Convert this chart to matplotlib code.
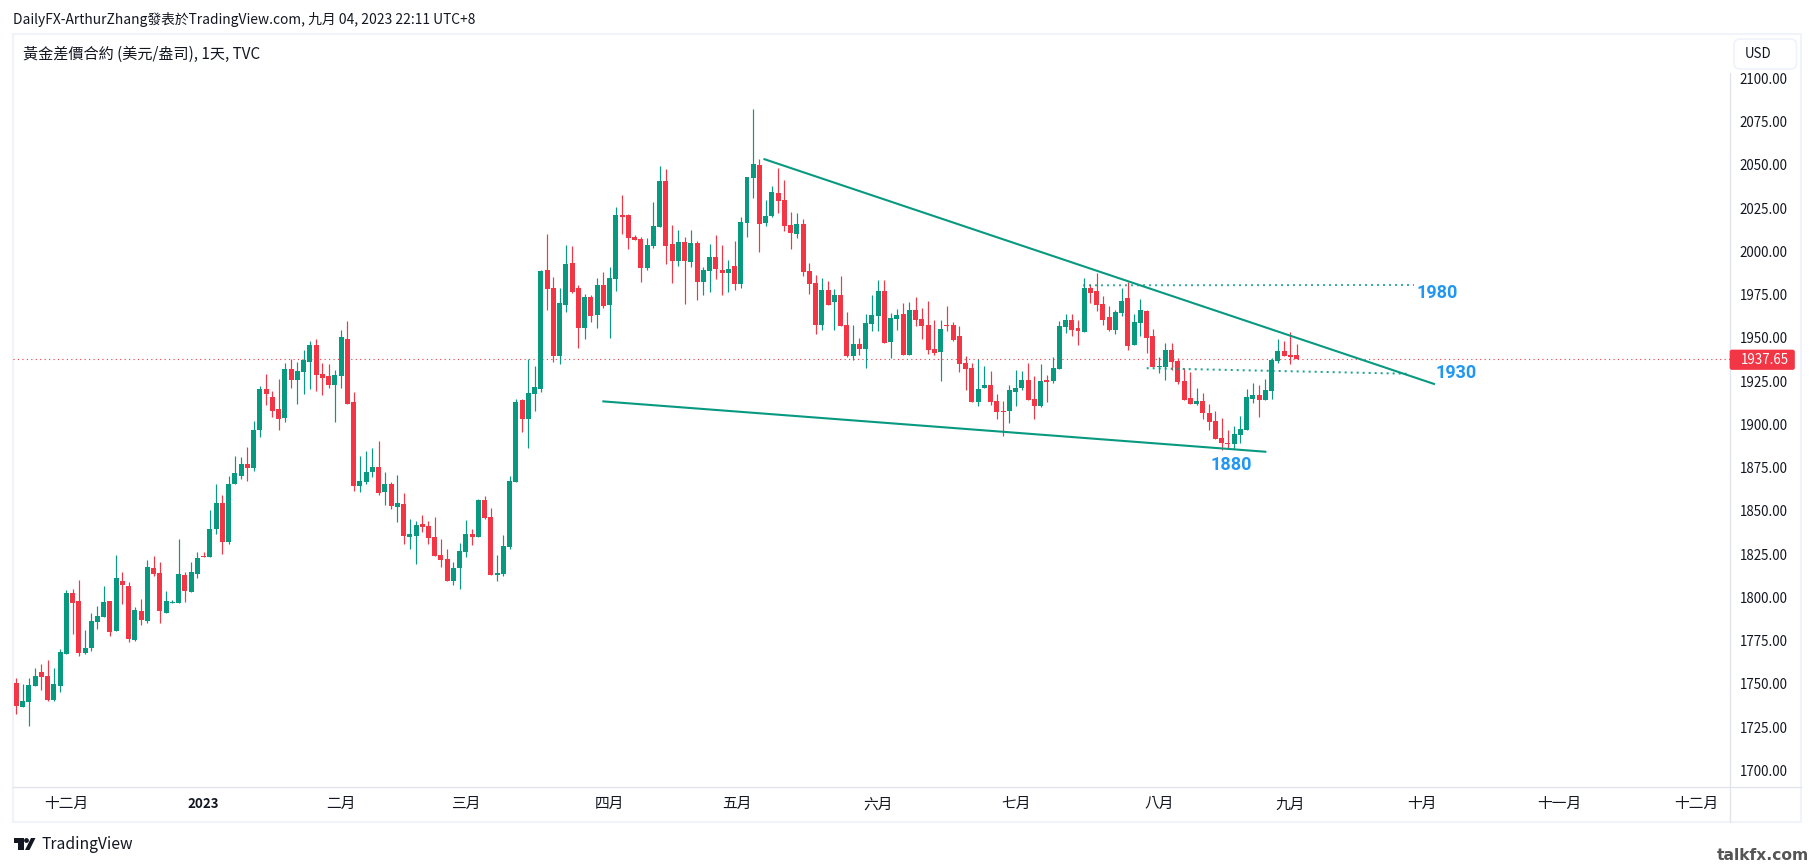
# 黃金日線圖 - TradingView 截圖重畫
import matplotlib
matplotlib.use('Agg')
import numpy as np
import matplotlib.pyplot as plt
from matplotlib.patches import Rectangle, FancyBboxPatch, Polygon, Circle

plt.rcParams['font.family'] = ['Noto Sans CJK TC', 'DejaVu Sans']

# 每根K線的價格
highs = [1753.4,1749.9,1753.4,1759.2,1761.5,1763.8,1759.2,1770.1,1804.3,1804.8,1810,1781.1,1790.9,1795,1806.6,1797.9,1824.5,1814.7,1808.9,1794.4,
 1799,1821.6,1823.9,1820.4,1803.7,1798.5,1833.7,1814.7,1820.4,1826.2,1826.2,1850.5,1865.5,1859.2,1870.2,1881.7,1881.1,1886.9,1902,1922.2,
 1929.1,1919.3,1926.2,1935.5,1937.6,1936.1,1943,1948.2,1949.4,1935.5,1934.9,1931.5,1954.6,1959.8,1918.7,1881.7,1884.6,1886.4,1890.4,1872.5,
 1866.7,1870.7,1860.3,1845.3,1844.2,1847.6,1844.2,1846.5,1833.8,1828,1820.5,1831.4,1844.7,1839.5,1856.9,1858.6,1851.7,1824.5,1836.1,1870.2,
 1914.7,1914.7,1937.6,1933.8,1989.2,2010,1985.2,1978.8,2003.7,2003.1,1980.5,1975.3,1974.8,1984.6,1988.1,1991,2025.6,2032.6,2021.6,2009.5,
 2008.3,2007.7,2028.5,2049.4,2047.6,2015.2,2012.3,2008.3,2012.3,2006,1991,2004.3,2009.5,2003.7,1995,2006,2019.9,2043,2082.3,2053.4,
 2029.7,2037.8,2048.2,2041.3,2022.8,2022.2,2018.8,1993.3,1986.4,1984.7,1982.9,1978.3,1985.8,1965,1957.5,1950,1963.8,1974.8,1983.5,1983.5,
 1964.4,1966.7,1970.2,1970.8,1973.7,1967.3,1971.4,1960.4,1960.4,1968.5,1959.2,1956.9,1939.6,1935.5,1937.8,1933.8,1930.9,1917.6,1913.5,1922.8,
 1931.5,1930.9,1935.5,1928,1934.9,1928.6,1939,1959.8,1963.9,1963.9,1960.4,1984.7,1981.2,1987.6,1974.3,1968.5,1966.2,1978.9,1982.4,1963.9,
 1972.5,1966.2,1955.2,1939,1947.1,1947.1,1938.4,1932.7,1930.3,1921.1,1918.2,1911.9,1907.8,1903.8,1896.8,1899.1,1904.9,1920.5,1924,1922.8,
 1926.3,1938.4,1949.4,1948.3,1953.5,1946.5]
lows = [1732.6,1736.6,1725.6,1748.7,1746.4,1740.1,1740.1,1745.3,1767.2,1778.8,1766.1,1767.2,1769,1781.7,1788.6,1777.7,1780.6,1796.2,1774.2,1774.8,
 1784,1785.2,1812.3,1785.2,1790.9,1796.7,1796.7,1797.3,1803.1,1811.2,1823.3,1823.3,1836.6,1825.1,1830.8,1865.5,1868.4,1867.3,1873,1892.7,
 1911.2,1904.3,1896.8,1901.4,1921,1911.8,1917.6,1920.5,1919.3,1917,1921,1901.4,1921,1911.8,1861.5,1860.9,1865.5,1869.6,1859.2,1853.4,
 1851.1,1843.6,1830.9,1828,1819.3,1837.8,1830.9,1823.9,1817.6,1809.5,1807.2,1804.8,1823.3,1830.3,1834.9,1845.3,1812.9,1809.5,1812.4,1828,
 1866.7,1895.6,1886.4,1907.8,1918.7,1966.1,1936,1934.9,1964.9,1975.9,1944.1,1949.3,1959.2,1955.7,1967.3,1949.9,1977.1,2010,2001.4,2006.6,
 1982.3,1989.2,2002,2014.1,1992.7,1981.7,1991.5,1969.6,1991,1971.9,1974.8,1976.5,1984,1974.8,1976.5,1977.7,1978.8,2008.3,2030.8,1999.6,
 2014.7,2019.9,2022.2,2011.8,2001.4,2007.8,1985.8,1975.4,1952.3,1954.6,1969,1954.6,1956.9,1939,1937.2,1940.1,1932.6,1954,1954,1947,
 1938.4,1954.6,1940.1,1940.1,1956.9,1949.4,1940.7,1940.1,1925.1,1954,1948.2,1930.3,1919.9,1913,1910.7,1921.1,1911.2,1903.1,1893.3,1900.8,
 1910.7,1919.9,1914.1,1903.1,1910.1,1913,1923.9,1932.1,1952.9,1951.2,1946,1953.5,1970.2,1965.6,1957.5,1954,1952.3,1962.7,1943.1,1946,
 1951.2,1941.3,1933.2,1929.8,1925.7,1931.5,1923.4,1914.2,1911.9,1911.3,1903.2,1896.8,1891.6,1885.3,1886.4,1885.8,1889.3,1896.8,1912.4,1904.3,
 1914.2,1914.7,1935.6,1939.6,1935,1937.65]
opens = [1750.5,1736.6,1739.5,1748.7,1756.8,1754.5,1740.7,1748.7,1767.2,1802.5,1797.9,1767.8,1770.7,1785.7,1788.6,1797.9,1780.6,1809.4,1806.6,1775.3,
 1792.1,1786.3,1817,1814.1,1790.9,1796.7,1796.7,1812.9,1803.1,1813.5,1823.9,1823.3,1839.5,1854.5,1832,1865.5,1870.2,1877.1,1874.8,1896.8,
 1920.4,1915.8,1908.9,1903.7,1932,1925.7,1930.3,1936.1,1945.9,1929.1,1928,1922.8,1928,1949.4,1913,1864.4,1866.7,1872.5,1875.4,1860.9,
 1865.5,1852.3,1854,1834.9,1835.5,1842.4,1841.3,1834.9,1824.5,1822.2,1809.5,1817,1826.2,1836.6,1834.9,1856.3,1846.5,1812.9,1813.5,1829.1,
 1866.7,1914.1,1903.1,1917.6,1920.4,1989.2,1978.8,1939.5,1969,1993.3,1978.8,1955.7,1973.6,1963.2,1980.5,1969,1984,2021,2021,2008.3,
 2007.1,1990.4,2003.1,2014.1,2040.7,2004.3,1994.4,2005.4,1993.8,2004.8,1982.3,1988.6,1996.7,1989.2,1987.5,1991.5,1981.1,2016.4,2042.4,2049.9,
 2016.4,2020.4,2033.7,2029.7,2015.3,2010.1,2015.9,1988.7,1981.8,1957.5,1977.7,1970.8,1974.8,1957.5,1939.6,1946.5,1943.6,1958.1,1962.7,1977.1,
 1947.7,1960.9,1963.8,1940.1,1966.2,1960.9,1957.5,1943.6,1941.9,1957.3,1957.5,1951.1,1935.5,1932.6,1913,1921.1,1922.8,1913.5,1907.8,1907.8,
 1918.7,1921.1,1925.7,1914.7,1910.7,1925.7,1925.1,1932.1,1956.4,1960.4,1955.8,1953.5,1978.9,1977.2,1969.7,1962.1,1954.6,1964.5,1973.1,1946,
 1958.7,1965.6,1951.2,1933.2,1933.2,1943.1,1936.7,1925.2,1915.3,1911.9,1913.6,1906.6,1902,1892.2,1889.3,1888.7,1893.9,1896.8,1914.7,1917.1,
 1914.2,1919.4,1936.7,1942.5,1940.2,1940.2]
closes = [1737.4,1740.1,1749.3,1754.5,1753.9,1740.7,1749.9,1768.4,1802.5,1796.7,1767.8,1770.7,1786.3,1789.2,1797.3,1780,1811.2,1807.1,1775.9,1792.7,
 1786.9,1817.5,1813.5,1792.1,1797.9,1797.3,1813.5,1803.7,1814.7,1822.7,1823.3,1839.5,1854.5,1832,1865.5,1871.9,1877.1,1874.8,1896.8,1920.4,
 1917.6,1907.7,1903.1,1932,1925.7,1930.9,1937.2,1945.9,1928.6,1926.8,1922.8,1928.6,1950.5,1911.8,1864.4,1867.3,1872.5,1875.4,1860.3,1865.5,
 1852.8,1854.6,1835.5,1836.6,1841.9,1840.7,1834.3,1823.9,1821.6,1809.5,1817,1826.8,1836.6,1834.9,1856.3,1845.9,1812.9,1814.1,1829.7,1867.3,
 1913,1903.1,1918.2,1921.6,1988.6,1978.2,1939.5,1970.1,1992.7,1976.5,1955.7,1973.6,1962.6,1980.5,1968.4,1984.6,2021,2019.9,2007.7,2006.6,
 1990.4,2003.7,2014.7,2040.7,2003.1,1994.4,2005.4,1994.4,2004.8,1982.3,1989.2,1996.7,1989.8,1987.5,1989.8,1981.1,2017,2043,2050.5,2015.8,
 2020.4,2034.3,2029.1,2014.7,2010.7,2015.9,1988.1,1981.2,1957.5,1977.7,1969,1974.8,1956.9,1939.6,1946.5,1943.6,1958.6,1963.3,1977.1,1947,
 1961.5,1963.3,1940.1,1966.2,1960.4,1956.9,1943,1941.3,1955.2,1956.9,1948.8,1934.9,1932,1913,1920.5,1922.8,1913,1907.2,1907.2,1919.9,
 1921.1,1925.7,1914.1,1910.7,1925.1,1924.5,1932.6,1956.9,1960.4,1954.6,1954,1978.9,1976,1969.1,1960.4,1954.6,1965,1971.4,1945.4,1959.3,
 1966.2,1950,1933.2,1933.8,1943.1,1936.1,1924.6,1914.2,1911.9,1913.6,1906.6,1901.4,1891.6,1889.3,1888.7,1894.5,1897.4,1915.9,1917.1,1914.2,
 1919.9,1937.3,1942.5,1939.6,1939,1937.65]

last_price = 1937.65
price_ticks = list(range(1700, 2101, 25))
month_pos = [8, 30, 52, 72, 95, 115.4, 138, 160, 183, 204, 225, 247, 269]
month_labels = ['十二月', '2023', '二月', '三月', '四月', '五月', '六月', '七月', '八月', '九月', '十月', '十一月', '十二月']

# 畫線工具的端點 (K線序號, 價格)
upper_line = ([119.8, 227.0], [2053.3, 1923.4])
lower_line = ([94.0, 200.0], [1913.3, 1884.2])
dots_1980 = ([170.8, 223.8], [1980.4, 1980.6])
dots_1930 = ([181.0, 222.6], [1932.5, 1929.3])
notes = [(227.5, 1976.0, '1980'), (230.5, 1930.0, '1930'), (194.5, 1876.3, '1880')]

GREEN = '#089981'
RED = '#F23645'
BLUE = '#2196F3'
BORDER = '#F0F3FA'
AXLINE = '#E0E3EB'
TEXT = '#131722'

W, H = 1814, 866
fig = plt.figure(figsize=(W / 100, H / 100), dpi=100, facecolor='white')

# 外框和文字用像素座標
page = fig.add_axes([0, 0, 1, 1])
page.set_xlim(0, W)
page.set_ylim(H, 0)
page.axis('off')
page.add_patch(Rectangle((13, 34), 1788, 788, fill=False, ec=BORDER, lw=1.5))
page.plot([1730, 1730], [73, 822], color=AXLINE, lw=0.9)
page.plot([13, 1801], [787, 787], color=AXLINE, lw=0.9)

# 主圖
ax = fig.add_axes([13 / W, 1 - 787 / H, 1717 / W, 752 / H])
ax.patch.set_alpha(0)
for s in ax.spines.values():
    s.set_visible(False)
ax.set_xlim(-0.53, 274.4)
ax.set_ylim(1690.4, 2125.1)

x = np.arange(len(closes))
o = np.array(opens)
c = np.array(closes)
colors = [GREEN if c[i] >= o[i] else RED for i in x]

ax.axhline(last_price, color=RED, lw=0.8, ls=(0, (1, 3)), zorder=1)
ax.vlines(x, lows, highs, colors=colors, lw=0.85, zorder=2)
ax.bar(x, np.maximum(np.abs(c - o), 0.5), bottom=np.minimum(o, c), width=0.8, color=colors, zorder=3)

ax.plot(*upper_line, color=GREEN, lw=1.5, zorder=4)
ax.plot(*lower_line, color=GREEN, lw=1.5, zorder=4)
ax.plot(*dots_1980, color=GREEN, lw=1.44, ls=(0, (1, 2)), alpha=0.8, zorder=4)
ax.plot(*dots_1930, color=GREEN, lw=1.44, ls=(0, (1, 2)), alpha=0.9, zorder=4)
for nx, ny, label in notes:
    ax.text(nx, ny, label, color=BLUE, fontsize=13, fontweight='bold', family='Roboto', ha='center', va='center', zorder=5)

ax.yaxis.tick_right()
ax.set_yticks(price_ticks)
ax.set_yticklabels(['%.2f' % p for p in price_ticks])
ax.set_xticks(month_pos)
ax.set_xticklabels(month_labels)
ax.tick_params(axis='y', length=0, pad=7, labelsize=9.6, labelcolor=TEXT)
ax.tick_params(axis='x', length=0, pad=7.5, labelsize=10.6, labelcolor=TEXT)
year_label = ax.get_xticklabels()[1]
year_label.set_fontweight('bold')
year_label.set_fontsize(9.6)

# 現價標籤
page.add_patch(FancyBboxPatch((1730, 350), 64.5, 19.5, boxstyle='round,pad=0,rounding_size=2', fc=RED, ec=RED, lw=0.5, zorder=6))
page.text(1765, 359.5, '%.2f' % last_price, color='white', fontsize=9.6, ha='center', va='center', zorder=7)

# 幣別按鈕
page.add_patch(FancyBboxPatch((1734, 39), 62.5, 30, boxstyle='round,pad=0,rounding_size=6', fc='white', ec=BORDER, lw=1.3, zorder=6))
page.text(1758, 54, 'USD', color=TEXT, fontsize=9.6, ha='center', va='center', zorder=7)

# 標題
page.text(13, 19.5, 'DailyFX-ArthurZhang發表於TradingView.com, 九月 04, 2023 22:11 UTC+8', color=TEXT, fontsize=9.95, ha='left', va='center')
page.text(23, 54, '黃金差價合約 (美元/盎司), 1天, TVC', color=TEXT, fontsize=10.9, ha='left', va='center')

# TradingView 標誌
page.add_patch(Rectangle((13.5, 838), 10, 4.5, fc=TEXT, ec='none'))
page.add_patch(Rectangle((18, 838), 5.5, 12, fc=TEXT, ec='none'))
page.add_patch(Circle((26.5, 840.5), 2.4, fc=TEXT, ec='none'))
page.add_patch(Polygon([(31, 838), (35.5, 838), (29.5, 850), (25, 850)], fc=TEXT, ec='none'))
page.text(42, 844.5, 'TradingView', color=TEXT, fontsize=11.3, ha='left', va='center')
page.text(1809, 855, 'talkfx.com', color='#555555', fontsize=11.2, fontweight='bold', family='DejaVu Sans', ha='right', va='center')

fig.savefig('out.png', dpi=100)
